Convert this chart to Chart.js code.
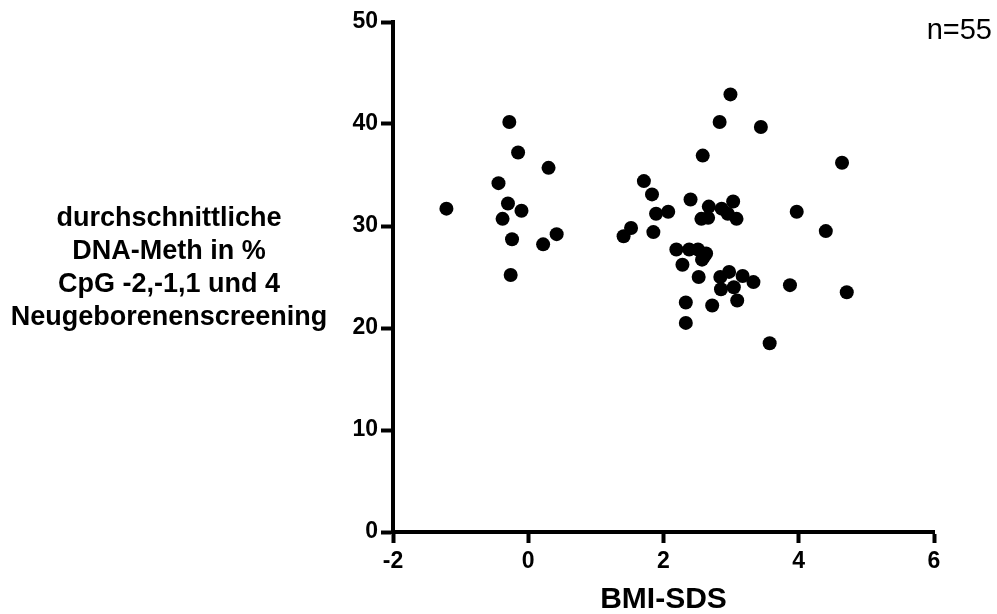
<!DOCTYPE html>
<html>
<head>
<meta charset="utf-8">
<script src="https://cdn.jsdelivr.net/npm/chart.js"></script>
<style>
  html, body { margin: 0; padding: 0; background: #fff; }
  #wrap { width: 997px; height: 614px; }
</style>
</head>
<body>
<div id="wrap"><canvas id="chart" width="997" height="614"></canvas></div>
<script>
// BMI-SDS (x) against mean DNA methylation in % (y), one point per child
const bmiSds = [
  -1.21, -0.28, -0.15, 0.30, -0.44, -0.30, -0.10, -0.38, -0.24, 0.22, 0.42, -0.26,
  2.99, 2.83, 3.44, 2.58, 4.64, 1.71, 1.83, 2.40, 3.03, 2.67, 2.86, 2.95, 1.89, 2.07,
  2.56, 2.66, 3.08, 3.97, 1.52, 1.41, 1.85, 4.40, 2.19, 2.38, 2.51, 2.63, 2.57, 2.28,
  2.60, 2.52, 2.84, 2.97, 3.17, 3.33, 2.85, 3.04, 3.87, 4.71, 3.09, 2.33, 2.72, 2.33, 3.57
];
const dnaMeth = [
  31.7, 40.2, 37.2, 35.7, 34.2, 32.2, 31.5, 30.7, 28.7, 28.2, 29.2, 25.2,
  42.9, 40.2, 39.7, 36.9, 36.2, 34.4, 33.1, 32.6, 32.4, 31.9, 31.7, 31.2, 31.2, 31.4,
  30.7, 30.8, 30.7, 31.4, 29.8, 29.0, 29.4, 29.5, 27.7, 27.7, 27.7, 27.3, 26.7, 26.2,
  27.0, 25.0, 25.0, 25.5, 25.1, 24.5, 23.8, 24.0, 24.2, 23.5, 22.7, 22.5, 22.2, 20.5, 18.5
];

const xTicks = [-2, 0, 2, 4, 6];
const yTicks = [0, 10, 20, 30, 40, 50];

const xTitle = 'BMI-SDS';
const yTitleLines = [
  'durchschnittliche',
  'DNA-Meth in %',
  'CpG -2,-1,1 und 4',
  'Neugeborenenscreening'
];
const countLabel = 'n=55';

const FONT = '"Liberation Sans", Arial, Helvetica, sans-serif';

const points = bmiSds.map((x, i) => ({ x: x, y: dnaMeth[i] }));

// horizontal y title and the sample size note
const extraText = {
  id: 'extraText',
  afterDraw(chart) {
    const ctx = chart.ctx;
    const area = chart.chartArea;
    ctx.save();
    ctx.fillStyle = '#000';
    ctx.textAlign = 'center';
    ctx.textBaseline = 'middle';
    ctx.font = 'bold 27px ' + FONT;
    const mid = (area.top + area.bottom) / 2;
    const step = 33;
    const first = mid - 9 - step * (yTitleLines.length - 1) / 2;
    yTitleLines.forEach((t, i) => ctx.fillText(t, 169, first + i * step));

    ctx.textAlign = 'right';
    ctx.font = '29px ' + FONT;
    ctx.fillText(countLabel, 992, 31);
    ctx.restore();
  }
};

new Chart(document.getElementById('chart'), {
  type: 'scatter',
  data: {
    datasets: [{
      data: points,
      backgroundColor: '#000',
      borderColor: '#000',
      borderWidth: 0,
      pointRadius: 7,
      pointHoverRadius: 7
    }]
  },
  options: {
    responsive: false,
    animation: false,
    events: [],
    layout: { padding: { left: 0, right: 63, top: 22, bottom: 0 } },
    plugins: {
      legend: { display: false },
      tooltip: { enabled: false }
    },
    scales: {
      x: {
        type: 'linear',
        min: xTicks[0],
        max: xTicks[xTicks.length - 1],
        afterBuildTicks: s => { s.ticks = xTicks.map(v => ({ value: v })); },
        afterFit: s => { s.height = 82; },
        border: { display: true, width: 4, color: '#000' },
        grid: {
          display: true,
          drawOnChartArea: false,
          drawTicks: true,
          tickLength: 11,
          tickWidth: 4,
          tickColor: '#000'
        },
        ticks: {
          color: '#000',
          padding: 5,
          maxRotation: 0,
          font: { family: FONT, size: 23, weight: 'bold' }
        },
        title: {
          display: true,
          text: xTitle,
          color: '#000',
          padding: { top: 0, bottom: 0 },
          font: { family: FONT, size: 30, weight: 'bold', lineHeight: 0.95 }
        }
      },
      y: {
        type: 'linear',
        min: yTicks[0],
        max: yTicks[yTicks.length - 1],
        afterBuildTicks: s => { s.ticks = yTicks.map(v => ({ value: v })); },
        afterFit: s => { s.width = 393; },
        border: { display: true, width: 4, color: '#000' },
        grid: {
          display: true,
          drawOnChartArea: false,
          drawTicks: true,
          tickLength: 12,
          tickWidth: 4,
          tickColor: '#000'
        },
        ticks: {
          color: '#000',
          padding: 3,
          font: { family: FONT, size: 23, weight: 'bold' }
        }
      }
    }
  },
  plugins: [extraText]
});
</script>
</body>
</html>
